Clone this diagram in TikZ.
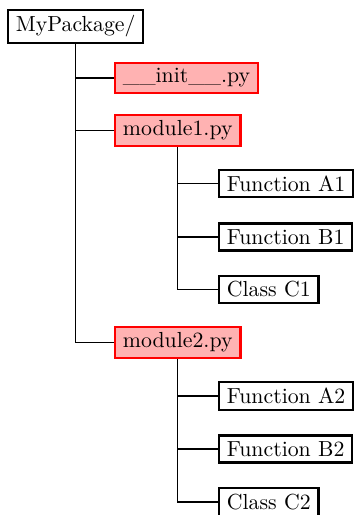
\documentclass[tikz,border=0pt]{standalone}
\begin{document}
\begin{tikzpicture}[x=0.4587pt, y=-0.4587pt,
  item/.style={draw, line width=1pt, anchor=west, inner xsep=3.6pt, inner ysep=2.7pt, font=\normalsize},
  file/.style={item, draw=red, fill=red!30},
  link/.style={draw, line width=0.6pt}]
  \useasboundingbox (0,0) rectangle (355,515);
  \clip (0,0) rectangle (355,515);

  % package root
  \node[item] (root) at (7,26.5) {MyPackage/};

  % files in the package
  \node[file] (init) at (114,78) {\_\_init\_\_.py};
  \node[file] (m1) at (114,130.5) {module1.py};
  \node[file] (m2) at (114,342.5) {module2.py};

  % contents of module1
  \node[item] (a1) at (218,183.5) {Function A1};
  \node[item] (b1) at (218,237) {Function B1};
  \node[item] (c1) at (218,289.5) {Class C1};

  % contents of module2
  \node[item] (a2) at (218,396) {Function A2};
  \node[item] (b2) at (218,449) {Function B2};
  \node[item] (c2) at (218,502) {Class C2};

  % tree connectors
  \draw[link] (root.south) |- (m2.west);
  \draw[link] (root.south |- init.west) -- (init.west);
  \draw[link] (root.south |- m1.west) -- (m1.west);

  \draw[link] (m1.south) |- (c1.west);
  \draw[link] (m1.south |- a1.west) -- (a1.west);
  \draw[link] (m1.south |- b1.west) -- (b1.west);

  \draw[link] (m2.south) |- (c2.west);
  \draw[link] (m2.south |- a2.west) -- (a2.west);
  \draw[link] (m2.south |- b2.west) -- (b2.west);
\end{tikzpicture}
\end{document}
